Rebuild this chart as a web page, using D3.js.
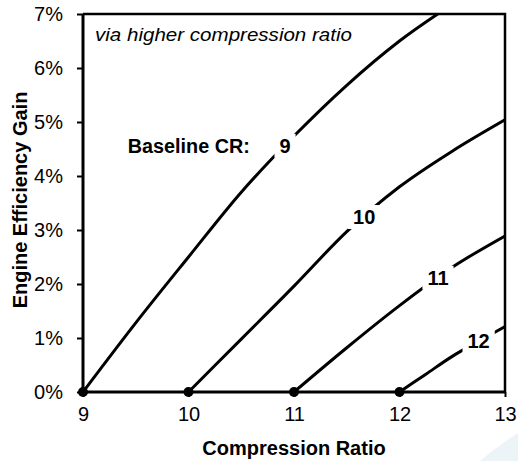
<!DOCTYPE html>
<html><head><meta charset="utf-8">
<script src="https://cdn.jsdelivr.net/npm/d3@7/dist/d3.min.js"></script>
<style>
body{margin:0;background:#fff}
text{font-family:"Liberation Sans",Arial,sans-serif;fill:#000}
</style>
</head><body>
<svg id="c" width="518" height="461"></svg>
<script>
// ---- data ----
const xTicks = [9, 10, 11, 12, 13];
const yTicks = [0, 0.01, 0.02, 0.03, 0.04, 0.05, 0.06, 0.07];
const baselineCR = [9, 10, 11, 12];
const cr9X  = [9, 9.5, 10, 10.5, 11, 11.5, 12, 12.5, 13];
const cr9Y  = [0, 0.0128, 0.0250, 0.0370, 0.0474, 0.0568, 0.0650, 0.0718, 0.0780];
const cr10X = [10, 10.5, 11, 11.5, 12, 12.5, 13];
const cr10Y = [0, 0.0098, 0.0196, 0.0297, 0.0380, 0.0446, 0.0504];
const cr11X = [11, 11.5, 12, 12.5, 13];
const cr11Y = [0, 0.0082, 0.0160, 0.0231, 0.0289];
const cr12X = [12, 12.25, 12.5, 12.75, 13];
const cr12Y = [0, 0.0033, 0.0066, 0.0094, 0.0121];
const labelAtX = [10.915, 11.665, 12.365, 12.75];
const title = "via higher compression ratio";
const xTitle = "Compression Ratio";
const yTitle = "Engine Efficiency Gain";
const legendText = "Baseline CR:";

const seriesX = [cr9X, cr10X, cr11X, cr12X];
const seriesY = [cr9Y, cr10Y, cr11Y, cr12Y];

// ---- layout ----
const W = 518, H = 461;
const m = {left: 83, top: 14, right: 13, bottom: 69};
const svg = d3.select("#c");
const x = d3.scaleLinear().domain([9, 13]).range([m.left, W - m.right]);
const y = d3.scaleLinear().domain([0, 0.07]).range([H - m.bottom, m.top]);

// faint background swoosh (bottom right)
svg.append("circle").attr("cx", 640).attr("cy", 640).attr("r", 240)
  .attr("fill", "#edf4f8");
svg.append("rect").attr("x", m.left).attr("y", m.top)
  .attr("width", x(13) - x(9)).attr("height", y(0) - y(0.07)).attr("fill", "#fff");

svg.append("clipPath").attr("id", "clip").append("rect")
  .attr("x", m.left).attr("y", m.top)
  .attr("width", x(13) - x(9)).attr("height", y(0) - y(0.07));

// axes
const yAxis = d3.axisLeft(y).tickValues(yTicks).tickSize(6).tickPadding(14)
  .tickFormat(d3.format(".0%"));
const gy = svg.append("g").attr("transform", `translate(${m.left},0)`).call(yAxis);
gy.select(".domain").remove();
gy.selectAll(".tick line").attr("stroke", "#000").attr("stroke-width", 2);
gy.selectAll(".tick text").style("font-size", "20px");

const xAxis = d3.axisBottom(x).tickValues(xTicks).tickSize(5).tickPadding(10)
  .tickFormat(d3.format("d"));
const gx = svg.append("g").attr("transform", `translate(0,${y(0)})`).call(xAxis);
gx.select(".domain").remove();
gx.selectAll(".tick line").attr("stroke", "#000").attr("stroke-width", 2);
gx.selectAll(".tick text").style("font-size", "20px");

// frame
svg.append("path")
  .attr("d", `M${x(9)},${y(0.07)}H${x(13)}V${y(0)}`)
  .attr("fill", "none").attr("stroke", "#000").attr("stroke-width", 2.5);
svg.append("path")
  .attr("d", `M${x(9)},${y(0.07)}V${y(0)}H${x(13)}`)
  .attr("fill", "none").attr("stroke", "#000").attr("stroke-width", 3);

// curves
const line = d3.line().x(d => x(d[0])).y(d => y(d[1])).curve(d3.curveMonotoneX);
const curves = svg.append("g").attr("clip-path", "url(#clip)");
seriesX.forEach((xs, i) => {
  const pts = xs.map((v, j) => [v, seriesY[i][j]]);
  curves.append("path").attr("d", line(pts))
    .attr("fill", "none").attr("stroke", "#000").attr("stroke-width", 3);
});

// curve labels with white knockouts
baselineCR.forEach((cr, i) => {
  const interp = d3.scaleLinear().domain(seriesX[i]).range(seriesY[i]);
  const lx = x(labelAtX[i]), ly = y(interp(labelAtX[i]));
  const g = svg.append("g");
  const t = g.append("text").attr("x", lx).attr("y", ly).attr("dy", "0.36em")
    .attr("text-anchor", "middle").style("font-size", "20px").style("font-weight", "bold")
    .text(cr);
  const bb = t.node().getBBox();
  g.insert("rect", "text").attr("x", bb.x - 5).attr("y", bb.y - 1)
    .attr("width", bb.width + 10).attr("height", bb.height + 2).attr("fill", "#fff");
});

// base dots
svg.append("g").selectAll("circle").data(baselineCR).join("circle")
  .attr("cx", d => x(d)).attr("cy", y(0)).attr("r", 5).attr("fill", "#000");

// legend text
svg.append("text").attr("x", x(9.425)).attr("y", y(0.0443))
  .attr("textLength", 122).attr("lengthAdjust", "spacingAndGlyphs")
  .style("font-size", "20px").style("font-weight", "bold")
  .text(legendText);

// title
svg.append("text").attr("x", 95).attr("y", 41)
  .style("font-size", "19px").style("font-style", "italic")
  .attr("textLength", 257).attr("lengthAdjust", "spacingAndGlyphs")
  .text(title);

// axis titles
svg.append("text").attr("x", (x(9) + x(13)) / 2).attr("y", 455)
  .attr("text-anchor", "middle").style("font-size", "20px").style("font-weight", "bold")
  .text(xTitle);
svg.append("text").attr("transform", `translate(27,${(y(0) + y(0.07)) / 2 - 3}) rotate(-90)`)
  .attr("text-anchor", "middle").style("font-size", "20px").style("font-weight", "bold")
  .text(yTitle);
</script>
</body></html>
